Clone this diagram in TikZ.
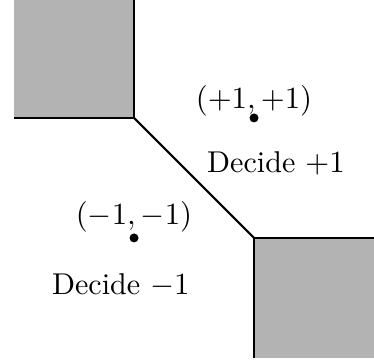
\documentclass[tikz,border=0pt]{standalone}
\usepackage{amsmath}
\usepackage{tikz}
\usetikzlibrary{positioning, calc}
\definecolor{region}{RGB}{179, 179, 179}

\begin{document}
\begin{tikzpicture}[
        x=1.5cm, y=1.5cm,
        font=\fontsize{10.7}{13}\selectfont,
        % Styles
        shade_box/.style={fill=region, draw=none},
        boundary/.style={line width=0.75pt, draw=black, line join=miter},
        pt/.style={circle, fill=black, inner sep=0pt, minimum size=3.2pt},
        label_text/.style={inner sep=0pt}
    ]
    \useasboundingbox (-1.617,-1.542) rectangle (1.5,1.483);

    % ==============================
    % 1. SHADED REGIONS
    % ==============================
    \fill[shade_box] (-1.5,0.5) rectangle (-0.5,1.5);
    \fill[shade_box] (0.5,-1.5) rectangle (1.5,-0.5);

    % ==============================
    % 2. DECISION BOUNDARY
    % ==============================
    \coordinate (corner_a) at (-0.5,0.5);
    \coordinate (corner_b) at (0.5,-0.5);
    \draw[boundary] (-1.5,0.5) -- (corner_a) -- (-0.5,1.5);
    \draw[boundary] (corner_a) -- (corner_b);
    \draw[boundary] (0.5,-1.5) -- (corner_b) -- (1.5,-0.5);

    % ==============================
    % 3. POINTS AND LABELS
    % ==============================
    \node[pt] (pos_pt) at (0.5,0.5) {};
    \node[pt] (neg_pt) at (-0.5,-0.5) {};
    \node[label_text] (pos_lbl) at (0.5,0.64) {$(+1,+1)$};
    \node[label_text] (neg_lbl) at (-0.5,-0.32) {$(-1,-1)$};

    \node[label_text] (dec_pos) at (0.683,0.12) {Decide $+1$};
    \node[label_text] (dec_neg) at (-0.61,-0.897) {Decide $-1$};

\end{tikzpicture}
\end{document}
